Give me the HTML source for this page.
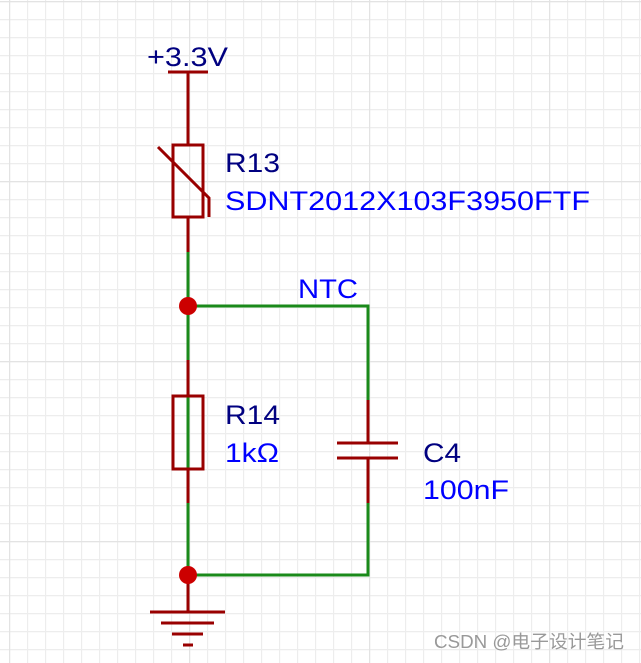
<!DOCTYPE html>
<html><head><meta charset="utf-8"><style>
body{margin:0;background:#fff}
svg{display:block}
text{font-family:"Liberation Sans","Noto Sans CJK SC",sans-serif}
</style></head><body>
<svg width="641" height="663" xmlns="http://www.w3.org/2000/svg">
<defs>
<pattern id="g" width="18" height="18" patternUnits="userSpaceOnUse" x="9" y="1">
<path d="M0 0.5H18M0.5 0V18" stroke="#ededed" stroke-width="1.4" fill="none"/>
</pattern>
<pattern id="G" width="180" height="180" patternUnits="userSpaceOnUse" x="9" y="1">
<path d="M0 0.5H180M0.5 0V180" stroke="#e3e3e3" stroke-width="1.4" fill="none"/>
</pattern>
</defs>
<rect width="641" height="663" fill="url(#g)"/>
<rect width="641" height="663" fill="url(#G)"/>
<g fill="none" stroke-width="3">
<path d="M188 252V575M188 306H368V400M368 503V575H188" stroke="#1a8a1a"/>
<g stroke="#990000">
<path d="M168 72H208M188 72V145M188 217V252"/>
<rect x="173" y="145" width="30" height="72"/>
<path d="M158 147L209 198V217"/>
<path d="M188 360V396M188 469V503"/>
<rect x="173" y="396" width="30" height="73"/>
<path d="M368 400V443M337 443H398M337 458H398M368 458V503"/>
<path d="M188 575V612M150 612H225M161 623H214M172 634H203M183 645H193"/>
</g>
</g>
<circle cx="188" cy="306" r="9" fill="#cc0000"/>
<circle cx="188" cy="575" r="9" fill="#cc0000"/>
<g font-size="27">
<text x="147" y="66" fill="#000080" textLength="81" lengthAdjust="spacingAndGlyphs">+3.3V</text>
<text x="225" y="172" fill="#000080" textLength="55" lengthAdjust="spacingAndGlyphs">R13</text>
<text x="225" y="210" fill="#0000ff" textLength="365" lengthAdjust="spacingAndGlyphs">SDNT2012X103F3950FTF</text>
<text x="298" y="298" fill="#0000ff" textLength="60" lengthAdjust="spacingAndGlyphs">NTC</text>
<text x="225" y="424" fill="#000080" textLength="55" lengthAdjust="spacingAndGlyphs">R14</text>
<text x="225" y="462" fill="#0000ff" textLength="54" lengthAdjust="spacingAndGlyphs">1kΩ</text>
<text x="423" y="462" fill="#000080" textLength="38" lengthAdjust="spacingAndGlyphs">C4</text>
<text x="423" y="499" fill="#0000ff" textLength="86" lengthAdjust="spacingAndGlyphs">100nF</text>
</g>
<text x="434" y="648" font-size="18" fill="#999" textLength="190" lengthAdjust="spacingAndGlyphs">CSDN @电子设计笔记</text>
</svg>
</body></html>
